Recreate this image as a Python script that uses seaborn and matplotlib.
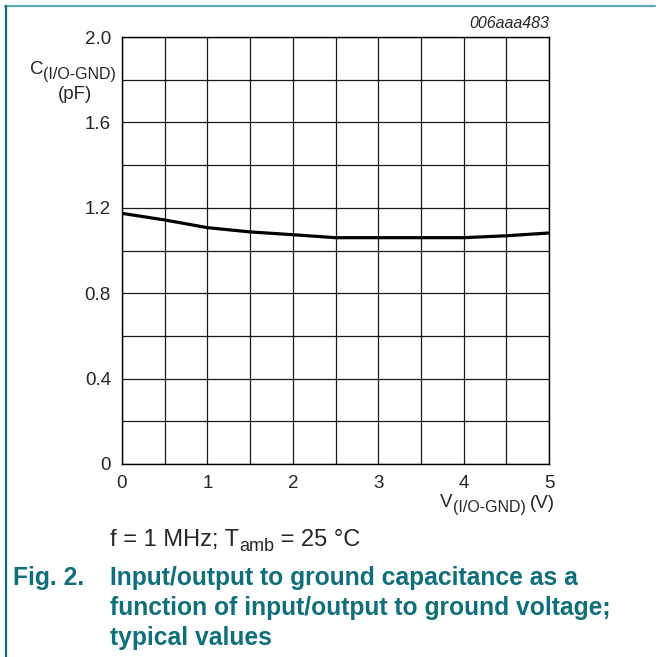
import numpy as np
import pandas as pd
import seaborn as sns
from matplotlib import pyplot as plt
from matplotlib.lines import Line2D

# data (V in volts, C in pF)
voltage = [0, 0.5, 1, 1.5, 2, 2.5, 3, 3.5, 4, 4.5, 5]
capacitance = [1.174, 1.143, 1.107, 1.087, 1.074, 1.060, 1.060, 1.060, 1.060, 1.069, 1.082]

x_ticks = [0, 0.5, 1, 1.5, 2, 2.5, 3, 3.5, 4, 4.5, 5]
x_labels = ["0", "", "1", "", "2", "", "3", "", "4", "", "5"]
y_ticks = [0, 0.2, 0.4, 0.6, 0.8, 1.0, 1.2, 1.4, 1.6, 1.8, 2.0]
y_labels = ["0", "", "0.4", "", "0.8", "", "1.2", "", "1.6", "", "2.0"]

teal = "#0f6f7c"

sns.set_style("white")
plt.rcParams["font.family"] = ["Liberation Sans", "DejaVu Sans"]

W, H = 659, 657
fig = plt.figure(figsize=(W / 100, H / 100), dpi=100)
ax = fig.add_axes([122 / W, 1 - 464 / H, (549 - 122) / W, (464 - 37) / H])

df = pd.DataFrame({"V": voltage, "C": capacitance})
sns.lineplot(data=df, x="V", y="C", ax=ax, color="black", linewidth=2.3, zorder=3)

ax.set_xlim(0, 5)
ax.set_ylim(0, 2.0)
ax.set_xticks(x_ticks)
ax.set_xticklabels(x_labels)
ax.set_yticks(y_ticks)
ax.set_yticklabels(y_labels)
ax.tick_params(length=0, labelsize=13.5)
ax.tick_params(axis="x", pad=8)
ax.tick_params(axis="y", pad=8)
ax.grid(True, color="#1a1a1a", linewidth=0.9)
for s in ax.spines.values():
    s.set_color("black")
    s.set_linewidth(1.0)
ax.set_xlabel("")
ax.set_ylabel("")

renderer = fig.canvas.get_renderer()


def px(x, y):
    return x / W, 1 - y / H


def chain(x, parts, **kw):
    # parts: (text, size, baseline y in px); placed one after another
    for txt, size, yb in parts:
        t = fig.text(*px(x, yb), txt, fontsize=size, ha="left", va="baseline", **kw)
        bb = t.get_window_extent(renderer)
        x += bb.width
    return x


# y axis label
chain(30, [("C", 13.5, 74), ("(I/O-GND)", 11.5, 79)])
fig.text(*px(75, 99), "(pF)", fontsize=13.5, ha="center", va="baseline")

# x axis label
chain(440, [("V", 13.5, 507), ("(I/O-GND)", 11.5, 512)])
fig.text(*px(555, 508), "(V)", fontsize=13.5, ha="right", va="baseline")

# id tag
fig.text(*px(549, 28), "006aaa483", fontsize=11.5, style="italic", ha="right", va="baseline")

# condition note
chain(110, [("f = 1 MHz; T", 17, 546), ("amb", 13, 551), (" = 25 °C", 17, 546)])

# caption
fig.text(*px(13, 585), "Fig. 2.", fontsize=17.7, fontweight="bold", color=teal, ha="left", va="baseline")
caption = ["Input/output to ground capacitance as a",
           "function of input/output to ground voltage;",
           "typical values"]
for i, line in enumerate(caption):
    fig.text(*px(110, 585 + i * 30), line, fontsize=17.7, fontweight="bold", color=teal,
             ha="left", va="baseline")

# page frame
fig.add_artist(Line2D([5 / W, 655 / W], [1 - 6 / H, 1 - 6 / H], color="#62aab3", linewidth=1.6))
fig.add_artist(Line2D([5.5 / W, 5.5 / W], [0, 1 - 6 / H], color=teal, linewidth=1.6))

fig.savefig("out.png", dpi=100)
